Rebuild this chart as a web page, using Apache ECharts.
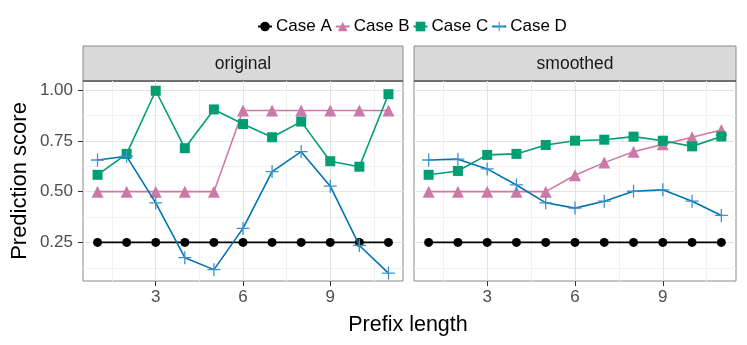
<!DOCTYPE html>
<html>
<head>
<meta charset="utf-8">
<script src="https://cdn.jsdelivr.net/npm/echarts@6/dist/echarts.min.js"></script>
<style>
  html, body { margin: 0; padding: 0; background: #fff; }
  #chart { width: 747px; height: 345px; }
</style>
</head>
<body>
<div id="chart"></div>
<script>
// prefix lengths 1..11
var prefixLen = [1, 2, 3, 4, 5, 6, 7, 8, 9, 10, 11];
var caseNames = ['Case A', 'Case B', 'Case C', 'Case D'];
var panels = ['original', 'smoothed'];

// original panel
var origA = [0.25, 0.25, 0.25, 0.25, 0.25, 0.25, 0.25, 0.25, 0.25, 0.25, 0.25];
var origB = [0.50, 0.50, 0.50, 0.50, 0.50, 0.90, 0.90, 0.90, 0.90, 0.90, 0.90];
var origC = [0.583, 0.686, 0.997, 0.714, 0.905, 0.833, 0.768, 0.845, 0.650, 0.623, 0.980];
var origD = [0.656, 0.674, 0.445, 0.175, 0.116, 0.319, 0.599, 0.697, 0.527, 0.235, 0.099];

// smoothed panel
var smA = [0.25, 0.25, 0.25, 0.25, 0.25, 0.25, 0.25, 0.25, 0.25, 0.25, 0.25];
var smB = [0.50, 0.50, 0.50, 0.50, 0.50, 0.581, 0.643, 0.697, 0.733, 0.768, 0.804];
var smC = [0.583, 0.602, 0.681, 0.686, 0.730, 0.751, 0.756, 0.771, 0.751, 0.723, 0.772];
var smD = [0.656, 0.660, 0.612, 0.533, 0.445, 0.419, 0.453, 0.502, 0.509, 0.453, 0.383];

var yTicks = [0.25, 0.5, 0.75, 1.0];
var yMinor = [0.125, 0.375, 0.625, 0.875];
var xTicks = [3, 6, 9];
var xMinor = [1.5, 4.5, 7.5, 10.5];

var colors = ['#000000', '#CC79A7', '#009E73', '#0072B2'];
var plusPath = 'path://M0,5.4H12V6.6H0Z M5.4,0H6.6V12H5.4Z';
var symbols = ['circle', 'triangle', 'rect', plusPath];
var symSizes = [9, 12, 10, 13];

var font = 'Liberation Sans, Arial, sans-serif';
var gridLeft = [83, 414], gridWidth = [320, 322];
var gridTop = 81, gridHeight = 200;

function pairs(vals) {
    var out = [];
    for (var i = 0; i < prefixLen.length; i++) out.push([prefixLen[i], vals[i]]);
    return out;
}

var panelData = [[origA, origB, origC, origD], [smA, smB, smC, smD]];

var grids = [], xAxes = [], yAxes = [], series = [], graphics = [];
for (var p = 0; p < 2; p++) {
    grids.push({left: gridLeft[p], top: gridTop, width: gridWidth[p], height: gridHeight,
        show: true, borderColor: '#8a8a8a', borderWidth: 1, backgroundColor: 'transparent'});
    // major x
    xAxes.push({type: 'value', gridIndex: p, min: 0.5, max: 11.5,
        axisLine: {show: false},
        axisTick: {show: true, length: 5, lineStyle: {color: '#333'}, customValues: xTicks},
        axisLabel: {customValues: xTicks, color: '#4d4d4d', fontSize: 17, fontFamily: font, margin: 8},
        splitLine: {show: true, lineStyle: {color: '#e3e3e3', width: 1}}
    });
    // minor x
    xAxes.push({type: 'value', gridIndex: p, min: 0.5, max: 11.5,
        axisLine: {show: false},
        axisTick: {show: false, customValues: xMinor},
        axisLabel: {show: false, customValues: xMinor},
        splitLine: {show: true, lineStyle: {color: '#f1f1f1', width: 1}}
    });
    yAxes.push({type: 'value', gridIndex: p, min: 0.06, max: 1.045,
        axisLine: {show: false},
        axisTick: {show: p === 0, length: 5, lineStyle: {color: '#333'}, customValues: yTicks},
        axisLabel: {show: p === 0, customValues: yTicks, color: '#4d4d4d', fontSize: 17, fontFamily: font, margin: 10,
            formatter: function (v) { return v.toFixed(2); }},
        splitLine: {show: true, lineStyle: {color: '#e3e3e3', width: 1}}
    });
    yAxes.push({type: 'value', gridIndex: p, min: 0.06, max: 1.045,
        axisLine: {show: false},
        axisTick: {show: false, customValues: yMinor},
        axisLabel: {show: false, customValues: yMinor},
        splitLine: {show: true, lineStyle: {color: '#f1f1f1', width: 1}}
    });
    for (var s = 0; s < 4; s++) {
        series.push({
            name: caseNames[s], type: 'line',
            xAxisIndex: p * 2, yAxisIndex: p * 2,
            data: pairs(panelData[p][s]),
            symbol: symbols[s], symbolSize: symSizes[s],
            showAllSymbol: true,
            lineStyle: {color: colors[s], width: 1.6},
            itemStyle: {color: s === 3 ? '#3b92cc' : colors[s]},
            z: 3 + s,
            animation: false
        });
    }
    // strip
    graphics.push({type: 'rect', shape: {x: gridLeft[p], y: 46, width: gridWidth[p], height: 35},
        style: {fill: '#d9d9d9', stroke: '#8a8a8a', lineWidth: 1}});
    graphics.push({type: 'line', shape: {x1: gridLeft[p], y1: 81, x2: gridLeft[p] + gridWidth[p], y2: 81},
        style: {stroke: '#333', lineWidth: 1}});
    graphics.push({type: 'text', x: gridLeft[p] + gridWidth[p] / 2, y: 64,
        style: {text: panels[p], font: '17.5px ' + font, fill: '#1a1a1a', textAlign: 'center', textVerticalAlign: 'middle'}});
}

var chart = echarts.init(document.getElementById('chart'));
chart.setOption({
    backgroundColor: '#ffffff',
    animation: false,
    textStyle: {fontFamily: font},
    legend: {
        data: caseNames, top: 13, left: 252,
        itemWidth: 14, itemHeight: 12, itemGap: 3,
        textStyle: {fontSize: 17, color: '#000', fontFamily: font, padding: [0, 0, 0, -1]}
    },
    grid: grids,
    xAxis: xAxes,
    yAxis: yAxes,
    series: series,
    graphic: graphics.concat([
        {type: 'text', x: 408, y: 325,
            style: {text: 'Prefix length', font: '21.5px ' + font, fill: '#000', textAlign: 'center', textVerticalAlign: 'middle'}},
        {type: 'text', x: 20, y: 181, rotation: Math.PI / 2,
            style: {text: 'Prediction score', font: '22px ' + font, fill: '#000', textAlign: 'center', textVerticalAlign: 'middle'}}
    ])
});
</script>
</body>
</html>
